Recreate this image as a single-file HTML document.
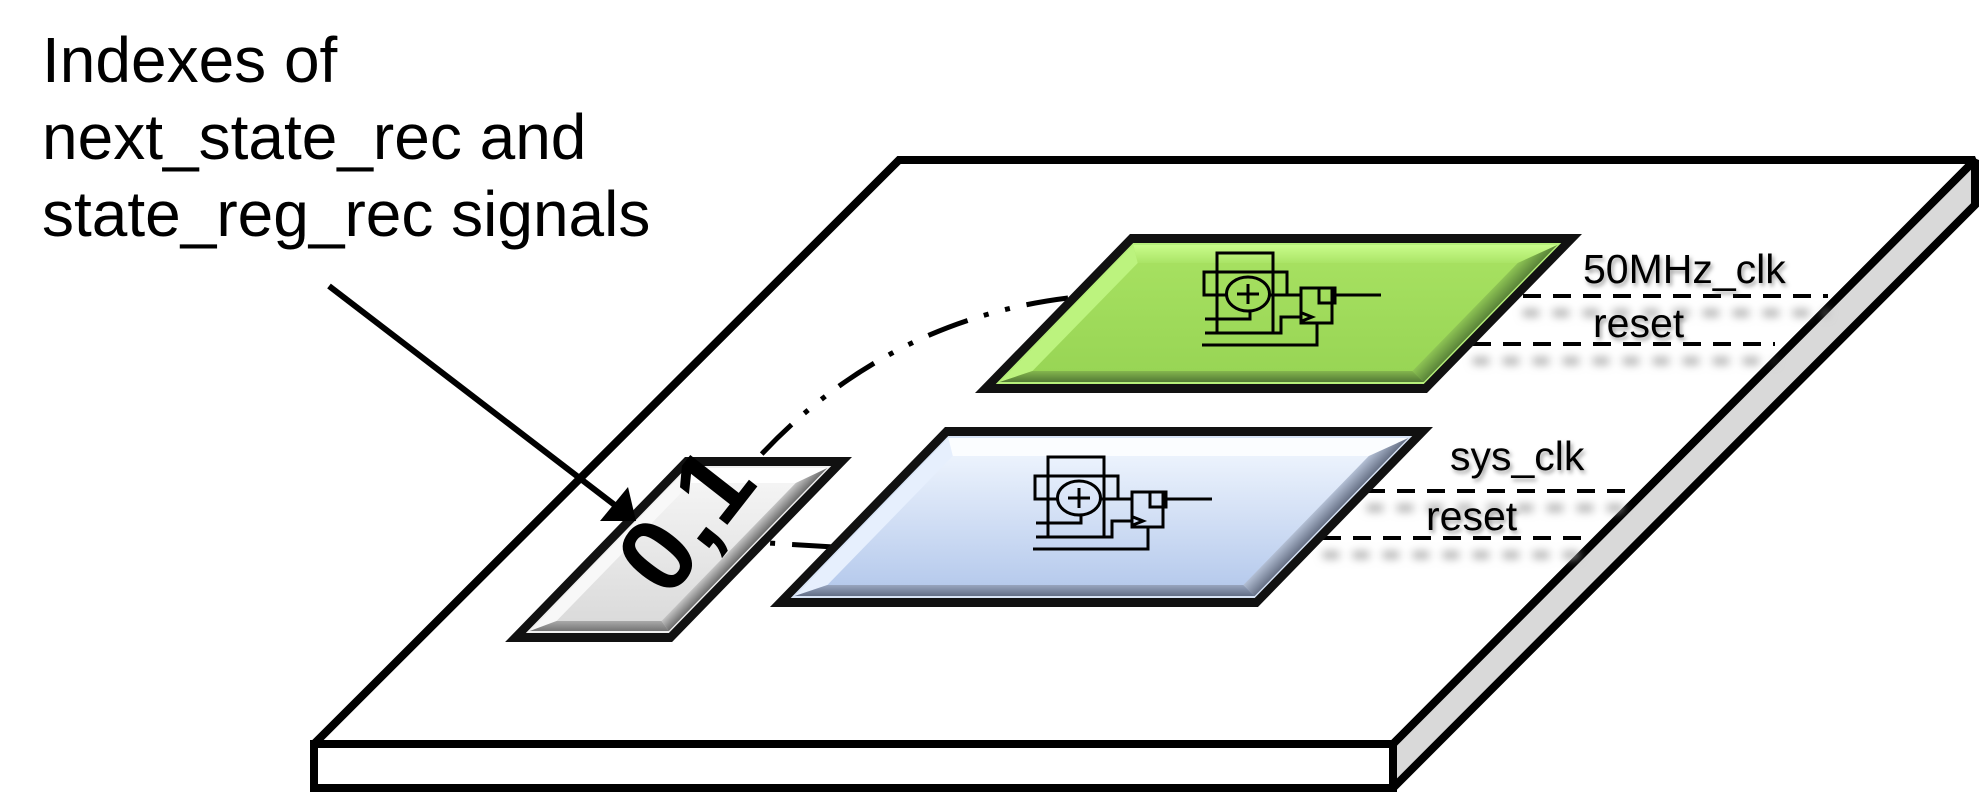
<!DOCTYPE html>
<html><head><meta charset="utf-8">
<style>
html,body{margin:0;padding:0;background:#fff;}
svg{display:block;}
text{font-family:"Liberation Sans",Arial,sans-serif;}
</style></head><body>
<svg width="1985" height="795" viewBox="0 0 1985 795" xmlns="http://www.w3.org/2000/svg">
<defs>
 <filter id="blur" x="-20%" y="-300%" width="140%" height="700%"><feGaussianBlur stdDeviation="4.5"/></filter>
 <filter id="ts" x="-20%" y="-50%" width="140%" height="200%"><feGaussianBlur stdDeviation="2"/></filter>
 <linearGradient id="grnMain" x1="0" y1="0" x2="0" y2="1"><stop offset="0" stop-color="#a8e262"/><stop offset="1" stop-color="#97d454"/></linearGradient>
 <linearGradient id="grnTop" x1="0" y1="0" x2="0" y2="1"><stop offset="0" stop-color="#cafd8c"/><stop offset="1" stop-color="#aae466"/></linearGradient>
 <linearGradient id="grnBot" x1="0" y1="0" x2="0" y2="1"><stop offset="0" stop-color="#84b64e"/><stop offset="1" stop-color="#537a35"/></linearGradient>
 <linearGradient id="grnRight" x1="0" y1="0" x2="1" y2="0"><stop offset="0" stop-color="#8ec454"/><stop offset="1" stop-color="#5a8439"/></linearGradient>
 <linearGradient id="bluMain" x1="0" y1="0" x2="0" y2="1"><stop offset="0" stop-color="#f3f8ff"/><stop offset="1" stop-color="#b2c7eb"/></linearGradient>
 <linearGradient id="bluBot" x1="0" y1="0" x2="0" y2="1"><stop offset="0" stop-color="#98a6bf"/><stop offset="1" stop-color="#636f87"/></linearGradient>
 <linearGradient id="bluRight" x1="0" y1="0" x2="1" y2="0"><stop offset="0" stop-color="#b3bfd4"/><stop offset="1" stop-color="#667085"/></linearGradient>
 <linearGradient id="gryMain" x1="0" y1="0" x2="0" y2="1"><stop offset="0" stop-color="#f7f7f7"/><stop offset="1" stop-color="#d9d9d9"/></linearGradient>
 <linearGradient id="gryBot" x1="0" y1="0" x2="0" y2="1"><stop offset="0" stop-color="#aaaaaa"/><stop offset="1" stop-color="#757575"/></linearGradient>
 <linearGradient id="gryRight" x1="0" y1="0" x2="1" y2="0"><stop offset="0" stop-color="#c4c4c4"/><stop offset="1" stop-color="#6c6c6c"/></linearGradient>
 <g id="icon" fill="none" stroke="#000" stroke-width="3">
  <rect x="0" y="0" width="56" height="80"/>
  <path d="M9.5,42 H-13 V19 H70 V42"/>
  <path d="M52.5,42 H84"/>
  <ellipse cx="31" cy="41" rx="21.5" ry="17"/>
  <path d="M20,41 H42 M31,31 V51"/>
  <path d="M33,58 V66 H-12"/>
  <path d="M-12,80 H64 V64 H85"/>
  <path d="M-15,92 H100 V70"/>
  <rect x="84" y="35" width="31" height="35"/>
  <rect x="102" y="35" width="16" height="15"/>
  <path d="M118,42 H164"/>
  <path d="M85,60 L95,64 L85,68"/>
 </g>
</defs>

<!-- Title text -->
<text x="42" y="82" font-size="64">Indexes of</text>
<text x="42" y="159" font-size="64">next_state_rec and</text>
<text x="42" y="236" font-size="64">state_reg_rec signals</text>

<!-- Board -->
<polygon points="899,160 1975,160 1393,744 314,744" fill="#fff" stroke="#000" stroke-width="8" stroke-linejoin="miter" stroke-miterlimit="1.5"/>
<polygon points="1975,160 1975,205 1393,788 1393,744" fill="#d9d9d9" stroke="#000" stroke-width="8" stroke-linejoin="miter" stroke-miterlimit="1.5"/>
<rect x="314" y="744" width="1079" height="44" fill="#fff" stroke="#000" stroke-width="8"/>

<!-- dashed line shadows -->
<g stroke="#a8a8a8" stroke-width="7" stroke-dasharray="16 14" filter="url(#blur)" fill="none">
 <path d="M1523,313 H1828"/>
 <path d="M1473,361 H1775"/>
 <path d="M1367,508 H1637"/>
 <path d="M1323,555 H1585"/>
</g>
<!-- dashed lines -->
<g stroke="#000" stroke-width="4" stroke-dasharray="18 12" fill="none">
 <path d="M1523,296 H1828"/>
 <path d="M1473,344 H1775"/>
 <path d="M1367,491 H1637"/>
 <path d="M1323,538 H1585"/>
</g>

<!-- dash-dot connectors -->
<path d="M1068,298 C930,315 830,380 758,458" fill="none" stroke="#000" stroke-width="5" stroke-dasharray="42 17 5 17 5 17"/>
<path d="M834,547 L768,543" fill="none" stroke="#000" stroke-width="5" stroke-dasharray="42 17 5 17 5 17"/>

<!-- Small gray parallelogram -->
<g transform="translate(685,457) skewX(-44.2)">
 <rect width="167" height="185" fill="#111"/>
 <rect x="12" y="9" width="143" height="167" fill="#f0f0f0"/>
 <rect x="14" y="11" width="139" height="163" fill="url(#gryMain)"/>
 <polygon points="14,11 153,11 136,26 31,26" fill="#ffffff"/>
 <polygon points="14,11 31,26 31,164 14,174" fill="#f8f8f8"/>
 <polygon points="14,174 153,174 136,164 31,164" fill="url(#gryBot)"/>
 <polygon points="153,11 153,174 136,164 136,26" fill="url(#gryRight)"/>
</g>

<!-- Blue parallelogram -->
<g transform="translate(945,427) skewX(-44.2)">
 <rect width="488" height="180" fill="#111"/>
 <rect x="12" y="9" width="464" height="162" fill="#d8e4f6"/>
 <rect x="14" y="11" width="460" height="158" fill="url(#bluMain)"/>
 <polygon points="14,11 474,11 452,29 36,29" fill="#fbfdff"/>
 <polygon points="14,11 36,29 36,158 14,169" fill="#e6effd"/>
 <polygon points="14,169 474,169 452,158 36,158" fill="url(#bluBot)"/>
 <polygon points="474,11 474,169 452,158 452,29" fill="url(#bluRight)"/>
</g>

<!-- Green parallelogram -->
<g transform="translate(1130,234) skewX(-44.27)">
 <rect width="452" height="159" fill="#111"/>
 <rect x="12" y="9" width="428" height="141" fill="#b6ef7a"/>
 <rect x="14" y="11" width="424" height="137" fill="url(#grnMain)"/>
 <polygon points="14,11 438,11 416,29 36,29" fill="url(#grnTop)"/>
 <polygon points="14,11 36,29 36,137 14,148" fill="#bcf37e"/>
 <polygon points="14,148 438,148 416,137 36,137" fill="url(#grnBot)"/>
 <polygon points="438,11 438,148 416,137 416,29" fill="url(#grnRight)"/>
</g>

<!-- circuit icons -->
<use href="#icon" transform="translate(1217,253)"/>
<use href="#icon" transform="translate(1048,457)"/>

<!-- "0,1" label -->
<text x="0" y="0" font-size="105" font-weight="bold" letter-spacing="1" text-anchor="middle" transform="translate(714,542) rotate(-52)">0,1</text>

<!-- label shadows -->
<g fill="#555" opacity="0.55" filter="url(#ts)" font-size="41">
 <text x="1585" y="286">50MHz_clk</text>
 <text x="1595" y="340">reset</text>
 <text x="1452" y="473">sys_clk</text>
 <text x="1428" y="533">reset</text>
</g>
<g fill="#000" font-size="41">
 <text x="1583" y="283">50MHz_clk</text>
 <text x="1593" y="337">reset</text>
 <text x="1450" y="470">sys_clk</text>
 <text x="1426" y="530">reset</text>
</g>

<!-- Arrow -->
<line x1="329" y1="286" x2="616" y2="506" stroke="#000" stroke-width="6"/>
<polygon points="636,521 600,521 628,487" fill="#000"/>
</svg>
</body></html>
